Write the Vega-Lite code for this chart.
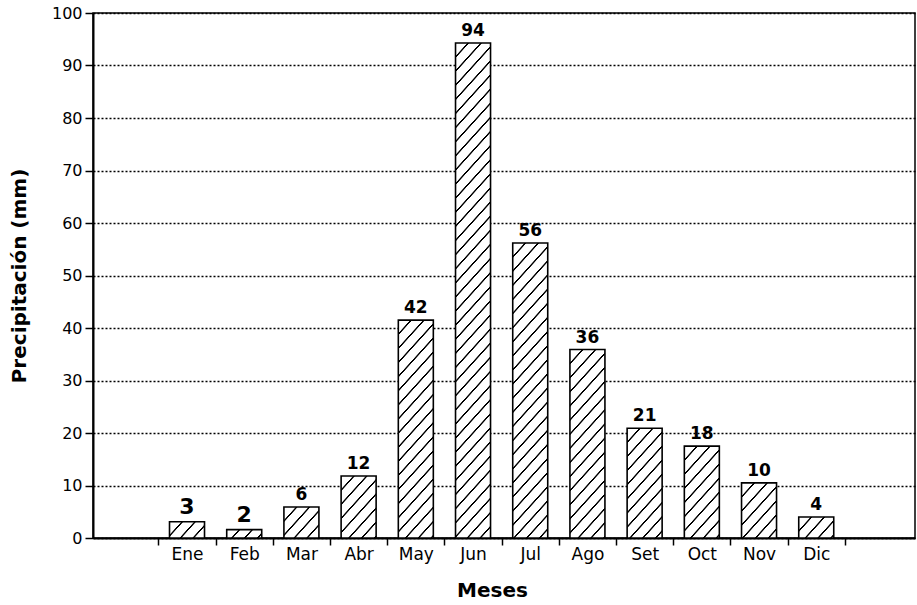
{
  "$schema": "https://vega.github.io/schema/vega-lite/v6.json",
  "width": 822,
  "height": 525,
  "autosize": "none",
  "padding": {"left": 93, "top": 13, "right": 2, "bottom": 67},
  "background": "white",
  "config": {
    "view": {"stroke": "black", "strokeWidth": 1.5},
    "font": "DejaVu Sans"
  },
  "data": {
    "values": [
      {"mes": "Ene", "mm": 3.1, "etiqueta": "3"},
      {"mes": "Feb", "mm": 1.6, "etiqueta": "2"},
      {"mes": "Mar", "mm": 5.9, "etiqueta": "6"},
      {"mes": "Abr", "mm": 11.8, "etiqueta": "12"},
      {"mes": "May", "mm": 41.5, "etiqueta": "42"},
      {"mes": "Jun", "mm": 94.3, "etiqueta": "94"},
      {"mes": "Jul", "mm": 56.2, "etiqueta": "56"},
      {"mes": "Ago", "mm": 35.9, "etiqueta": "36"},
      {"mes": "Set", "mm": 20.9, "etiqueta": "21"},
      {"mes": "Oct", "mm": 17.5, "etiqueta": "18"},
      {"mes": "Nov", "mm": 10.5, "etiqueta": "10"},
      {"mes": "Dic", "mm": 4.0, "etiqueta": "4"}
    ]
  },
  "encoding": {
    "x": {
      "field": "mes",
      "type": "nominal",
      "sort": null,
      "scale": {
        "domain": [" ", "Ene", "Feb", "Mar", "Abr", "May", "Jun", "Jul", "Ago", "Set", "Oct", "Nov", "Dic"],
        "paddingInner": 0.388,
        "paddingOuter": 0.879,
        "align": 0.192
      },
      "axis": {
        "title": "Meses",
        "labelAngle": 0,
        "labelFont": "DejaVu Sans",
        "labelFontSize": 17,
        "labelColor": "black",
        "labelPadding": 1,
        "tickSize": 7,
        "tickColor": "black",
        "tickWidth": 1.5,
        "tickOffset": 28.6,
        "labelOffset": -28.6,
        "domainColor": "black",
        "domainWidth": 2,
        "titleFont": "DejaVu Sans",
        "titleFontSize": 20,
        "titleFontWeight": "bold",
        "titleColor": "black",
        "titlePadding": 18,
        "titleX": 399
      }
    },
    "y": {
      "field": "mm",
      "type": "quantitative",
      "scale": {"domain": [0, 100], "nice": false},
      "axis": {
        "title": "Precipitación (mm)",
        "values": [0, 10, 20, 30, 40, 50, 60, 70, 80, 90, 100],
        "labelFont": "DejaVu Sans",
        "labelFontSize": 16,
        "labelColor": "black",
        "labelPadding": 3,
        "tickSize": 8,
        "tickColor": "black",
        "tickWidth": 1.5,
        "domainColor": "black",
        "domainWidth": 2,
        "grid": true,
        "gridColor": "black",
        "gridDash": [2, 2],
        "gridWidth": 1.5,
        "gridOpacity": 1,
        "titleFont": "DejaVu Sans",
        "titleFontSize": 20,
        "titleFontWeight": "bold",
        "titleColor": "black",
        "titlePadding": 22
      }
    }
  },
  "layer": [
    {
      "mark": {
        "type": "bar",
        "clip": true,
        "y2Offset": 526,
        "fill": {
          "gradient": "linear",
          "x1": 0, "y1": 0, "x2": 0.07813, "y2": 1.06747,
          "stops": [
            {"offset": 0.0225, "color": "#fff"}, {"offset": 0.0238, "color": "#000"}, {"offset": 0.0262, "color": "#000"}, {"offset": 0.0275, "color": "#fff"},
            {"offset": 0.0475, "color": "#fff"}, {"offset": 0.0488, "color": "#000"}, {"offset": 0.0512, "color": "#000"}, {"offset": 0.0525, "color": "#fff"},
            {"offset": 0.0725, "color": "#fff"}, {"offset": 0.0738, "color": "#000"}, {"offset": 0.0762, "color": "#000"}, {"offset": 0.0775, "color": "#fff"},
            {"offset": 0.0975, "color": "#fff"}, {"offset": 0.0988, "color": "#000"}, {"offset": 0.1012, "color": "#000"}, {"offset": 0.1025, "color": "#fff"},
            {"offset": 0.1225, "color": "#fff"}, {"offset": 0.1238, "color": "#000"}, {"offset": 0.1262, "color": "#000"}, {"offset": 0.1275, "color": "#fff"},
            {"offset": 0.1475, "color": "#fff"}, {"offset": 0.1488, "color": "#000"}, {"offset": 0.1512, "color": "#000"}, {"offset": 0.1525, "color": "#fff"},
            {"offset": 0.1725, "color": "#fff"}, {"offset": 0.1738, "color": "#000"}, {"offset": 0.1762, "color": "#000"}, {"offset": 0.1775, "color": "#fff"},
            {"offset": 0.1975, "color": "#fff"}, {"offset": 0.1988, "color": "#000"}, {"offset": 0.2012, "color": "#000"}, {"offset": 0.2025, "color": "#fff"},
            {"offset": 0.2225, "color": "#fff"}, {"offset": 0.2238, "color": "#000"}, {"offset": 0.2262, "color": "#000"}, {"offset": 0.2275, "color": "#fff"},
            {"offset": 0.2475, "color": "#fff"}, {"offset": 0.2488, "color": "#000"}, {"offset": 0.2512, "color": "#000"}, {"offset": 0.2525, "color": "#fff"},
            {"offset": 0.2725, "color": "#fff"}, {"offset": 0.2738, "color": "#000"}, {"offset": 0.2762, "color": "#000"}, {"offset": 0.2775, "color": "#fff"},
            {"offset": 0.2975, "color": "#fff"}, {"offset": 0.2988, "color": "#000"}, {"offset": 0.3012, "color": "#000"}, {"offset": 0.3025, "color": "#fff"},
            {"offset": 0.3225, "color": "#fff"}, {"offset": 0.3238, "color": "#000"}, {"offset": 0.3262, "color": "#000"}, {"offset": 0.3275, "color": "#fff"},
            {"offset": 0.3475, "color": "#fff"}, {"offset": 0.3488, "color": "#000"}, {"offset": 0.3512, "color": "#000"}, {"offset": 0.3525, "color": "#fff"},
            {"offset": 0.3725, "color": "#fff"}, {"offset": 0.3738, "color": "#000"}, {"offset": 0.3762, "color": "#000"}, {"offset": 0.3775, "color": "#fff"},
            {"offset": 0.3975, "color": "#fff"}, {"offset": 0.3988, "color": "#000"}, {"offset": 0.4012, "color": "#000"}, {"offset": 0.4025, "color": "#fff"},
            {"offset": 0.4225, "color": "#fff"}, {"offset": 0.4238, "color": "#000"}, {"offset": 0.4262, "color": "#000"}, {"offset": 0.4275, "color": "#fff"},
            {"offset": 0.4475, "color": "#fff"}, {"offset": 0.4488, "color": "#000"}, {"offset": 0.4512, "color": "#000"}, {"offset": 0.4525, "color": "#fff"},
            {"offset": 0.4725, "color": "#fff"}, {"offset": 0.4738, "color": "#000"}, {"offset": 0.4762, "color": "#000"}, {"offset": 0.4775, "color": "#fff"},
            {"offset": 0.4975, "color": "#fff"}, {"offset": 0.4988, "color": "#000"}, {"offset": 0.5012, "color": "#000"}, {"offset": 0.5025, "color": "#fff"},
            {"offset": 0.5225, "color": "#fff"}, {"offset": 0.5238, "color": "#000"}, {"offset": 0.5262, "color": "#000"}, {"offset": 0.5275, "color": "#fff"},
            {"offset": 0.5475, "color": "#fff"}, {"offset": 0.5488, "color": "#000"}, {"offset": 0.5512, "color": "#000"}, {"offset": 0.5525, "color": "#fff"},
            {"offset": 0.5725, "color": "#fff"}, {"offset": 0.5738, "color": "#000"}, {"offset": 0.5762, "color": "#000"}, {"offset": 0.5775, "color": "#fff"},
            {"offset": 0.5975, "color": "#fff"}, {"offset": 0.5988, "color": "#000"}, {"offset": 0.6012, "color": "#000"}, {"offset": 0.6025, "color": "#fff"},
            {"offset": 0.6225, "color": "#fff"}, {"offset": 0.6238, "color": "#000"}, {"offset": 0.6262, "color": "#000"}, {"offset": 0.6275, "color": "#fff"},
            {"offset": 0.6475, "color": "#fff"}, {"offset": 0.6488, "color": "#000"}, {"offset": 0.6512, "color": "#000"}, {"offset": 0.6525, "color": "#fff"},
            {"offset": 0.6725, "color": "#fff"}, {"offset": 0.6738, "color": "#000"}, {"offset": 0.6762, "color": "#000"}, {"offset": 0.6775, "color": "#fff"},
            {"offset": 0.6975, "color": "#fff"}, {"offset": 0.6988, "color": "#000"}, {"offset": 0.7012, "color": "#000"}, {"offset": 0.7025, "color": "#fff"},
            {"offset": 0.7225, "color": "#fff"}, {"offset": 0.7238, "color": "#000"}, {"offset": 0.7262, "color": "#000"}, {"offset": 0.7275, "color": "#fff"},
            {"offset": 0.7475, "color": "#fff"}, {"offset": 0.7488, "color": "#000"}, {"offset": 0.7512, "color": "#000"}, {"offset": 0.7525, "color": "#fff"},
            {"offset": 0.7725, "color": "#fff"}, {"offset": 0.7738, "color": "#000"}, {"offset": 0.7762, "color": "#000"}, {"offset": 0.7775, "color": "#fff"},
            {"offset": 0.7975, "color": "#fff"}, {"offset": 0.7988, "color": "#000"}, {"offset": 0.8012, "color": "#000"}, {"offset": 0.8025, "color": "#fff"},
            {"offset": 0.8225, "color": "#fff"}, {"offset": 0.8238, "color": "#000"}, {"offset": 0.8262, "color": "#000"}, {"offset": 0.8275, "color": "#fff"},
            {"offset": 0.8475, "color": "#fff"}, {"offset": 0.8488, "color": "#000"}, {"offset": 0.8512, "color": "#000"}, {"offset": 0.8525, "color": "#fff"},
            {"offset": 0.8725, "color": "#fff"}, {"offset": 0.8738, "color": "#000"}, {"offset": 0.8762, "color": "#000"}, {"offset": 0.8775, "color": "#fff"},
            {"offset": 0.8975, "color": "#fff"}, {"offset": 0.8988, "color": "#000"}, {"offset": 0.9012, "color": "#000"}, {"offset": 0.9025, "color": "#fff"},
            {"offset": 0.9225, "color": "#fff"}, {"offset": 0.9238, "color": "#000"}, {"offset": 0.9262, "color": "#000"}, {"offset": 0.9275, "color": "#fff"},
            {"offset": 0.9475, "color": "#fff"}, {"offset": 0.9488, "color": "#000"}, {"offset": 0.9512, "color": "#000"}, {"offset": 0.9525, "color": "#fff"},
            {"offset": 0.9725, "color": "#fff"}, {"offset": 0.9738, "color": "#000"}, {"offset": 0.9762, "color": "#000"}, {"offset": 0.9775, "color": "#fff"}
          ]
        }
      },
      "encoding": {
        "y2": {"field": "mm"}
      }
    },
    {
      "mark": {"type": "bar", "fillOpacity": 0, "stroke": "black", "strokeWidth": 1.6},
      "encoding": {}
    },
    {
      "mark": {"type": "text", "baseline": "bottom", "dy": -3, "fontWeight": "bold", "font": "DejaVu Sans", "color": "black"},
      "encoding": {
        "text": {"field": "etiqueta"},
        "size": {"condition": {"test": "datum.mes === 'Ene' || datum.mes === 'Feb'", "value": 22}, "value": 17}
      }
    }
  ]
}
